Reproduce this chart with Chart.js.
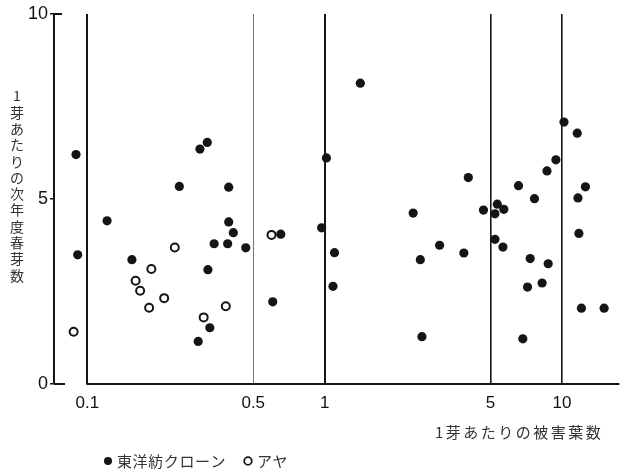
<!DOCTYPE html>
<html>
<head>
<meta charset="utf-8">
<script src="https://cdn.jsdelivr.net/npm/chart.js@4/dist/chart.umd.min.js"></script>
<style>
  body { margin: 0; background: #fff; }
</style>
</head>
<body>
<canvas id="grafico" width="624" height="471"></canvas>
<script>
// valores: x = 1芽あたりの被害葉数 (log), y = 1芽あたりの次年度春芽数
const xTicks = [0.1, 0.5, 1, 5, 10];
const yTicks = [0, 5, 10];

// ● 東洋紡クローン
const clonX = [0.0895, 0.091, 0.121, 0.154, 0.244, 0.298, 0.32, 0.394, 0.394, 0.412,
  0.342, 0.39, 0.465, 0.322, 0.328, 0.293, 0.653, 0.604, 1.017, 0.971,
  1.10, 1.084, 1.413, 2.36, 2.53, 2.57, 3.05, 3.86, 4.03, 4.67,
  5.34, 5.69, 5.22, 5.22, 5.64, 6.56, 7.66, 7.35, 8.75, 8.25,
  7.16, 6.84, 8.65, 9.43, 10.2, 11.6, 12.56, 11.68, 11.79, 12.08, 15.06];
const clonY = [6.20, 3.49, 4.41, 3.36, 5.34, 6.35, 6.53, 5.32, 4.38, 4.09,
  3.79, 3.79, 3.68, 3.09, 1.52, 1.15, 4.05, 2.22, 6.11, 4.22,
  3.55, 2.64, 8.13, 4.62, 3.36, 1.28, 3.75, 3.54, 5.58, 4.70,
  4.86, 4.72, 4.60, 3.91, 3.70, 5.36, 5.01, 3.39, 3.25, 2.73,
  2.62, 1.22, 5.76, 6.06, 7.08, 6.78, 5.33, 5.03, 4.07, 2.05, 2.05];

// ○ アヤ
const ayaX = [0.0875, 0.2335, 0.186, 0.1596, 0.1668, 0.2106, 0.182, 0.383, 0.309, 0.597];
const ayaY = [1.41, 3.69, 3.11, 2.79, 2.52, 2.32, 2.06, 2.10, 1.80, 4.03];

function puntos(xs, ys) {
    return xs.map((v, i) => ({ x: v, y: ys[i] }));
}

const fuenteJp = '"Noto Sans CJK JP", sans-serif';
const tinta = '#151515';

// ejes, titulos y leyenda dibujados a mano
const adornos = {
    id: 'adornos',
    afterDraw(chart) {
        const { ctx, chartArea: a, scales } = chart;
        const x = scales.x, y = scales.y;
        ctx.save();
        ctx.strokeStyle = tinta;
        ctx.lineWidth = 2;
        ctx.beginPath();
        ctx.moveTo(x.getPixelForValue(xTicks[0]) - 1, a.bottom);
        ctx.lineTo(a.right + 2, a.bottom);
        ctx.moveTo(a.left, a.bottom);
        ctx.lineTo(a.left + 11, a.bottom);
        ctx.moveTo(a.left, y.getPixelForValue(10));
        ctx.lineTo(a.left + 8, y.getPixelForValue(10));
        ctx.stroke();

        ctx.fillStyle = '#333';
        ctx.textAlign = 'center';
        ctx.textBaseline = 'middle';

        // titulo vertical
        ctx.font = '14px ' + fuenteJp;
        const tituloY = '1芽あたりの次年度春芽数';
        [...tituloY].forEach((c, i) => ctx.fillText(c, 17, 96 + i * 16.3));

        // titulo del eje x
        ctx.font = '15px ' + fuenteJp;
        ctx.letterSpacing = '2.5px';
        ctx.textAlign = 'left';
        ctx.fillText('1芽あたりの被害葉数', 435, 432);

        // leyenda
        ctx.letterSpacing = '0.6px';
        ctx.fillStyle = tinta;
        ctx.beginPath();
        ctx.arc(108, 461, 4, 0, Math.PI * 2);
        ctx.fill();
        ctx.fillStyle = '#333';
        ctx.fillText('東洋紡クローン', 117, 461);
        ctx.beginPath();
        ctx.lineWidth = 1.8;
        ctx.arc(248, 461, 3.8, 0, Math.PI * 2);
        ctx.stroke();
        ctx.fillText('アヤ', 257, 461);
        ctx.restore();
    }
};

new Chart(document.getElementById('grafico'), {
    type: 'scatter',
    data: {
        datasets: [
            {
                label: '東洋紡クローン',
                data: puntos(clonX, clonY),
                pointRadius: 4.6,
                pointBackgroundColor: tinta,
                pointBorderColor: tinta,
                pointBorderWidth: 0
            },
            {
                label: 'アヤ',
                data: puntos(ayaX, ayaY),
                pointRadius: 4,
                pointBackgroundColor: '#fff',
                pointBorderColor: tinta,
                pointBorderWidth: 2
            }
        ]
    },
    options: {
        responsive: false,
        animation: false,
        layout: { padding: { top: 14, right: 0, left: 0, bottom: 0 } },
        plugins: { legend: { display: false }, tooltip: { enabled: false } },
        elements: { point: { hoverRadius: 4.6 } },
        scales: {
            x: {
                type: 'logarithmic',
                min: 0.0723,
                max: 17.13,
                afterBuildTicks: s => { s.ticks = xTicks.map(v => ({ value: v })); },
                afterFit: s => { s.height = 87; },
                border: { display: false },
                grid: {
                    drawTicks: false,
                    color: c => (c.tick && c.tick.value === 0.5) ? '#777' : tinta,
                    lineWidth: c => {
                        if (!c.tick) return 1;
                        const v = c.tick.value;
                        if (v === 0.5) return 1;
                        if (v === 5 || v === 10) return 1.6;
                        return 2;
                    }
                },
                ticks: {
                    padding: 9,
                    color: '#111',
                    font: { family: 'Liberation Sans', size: 17 },
                    callback: v => String(v)
                }
            },
            y: {
                min: 0,
                max: 10,
                afterBuildTicks: s => { s.ticks = yTicks.map(v => ({ value: v })); },
                afterFit: s => { s.width = 54; },
                border: { display: true, color: tinta, width: 2 },
                grid: { drawOnChartArea: false, tickLength: 4, color: tinta, lineWidth: 1.5 },
                ticks: {
                    padding: 2,
                    color: '#111',
                    font: { family: 'Liberation Sans', size: 18 }
                }
            }
        }
    },
    plugins: [adornos]
});
</script>
</body>
</html>
